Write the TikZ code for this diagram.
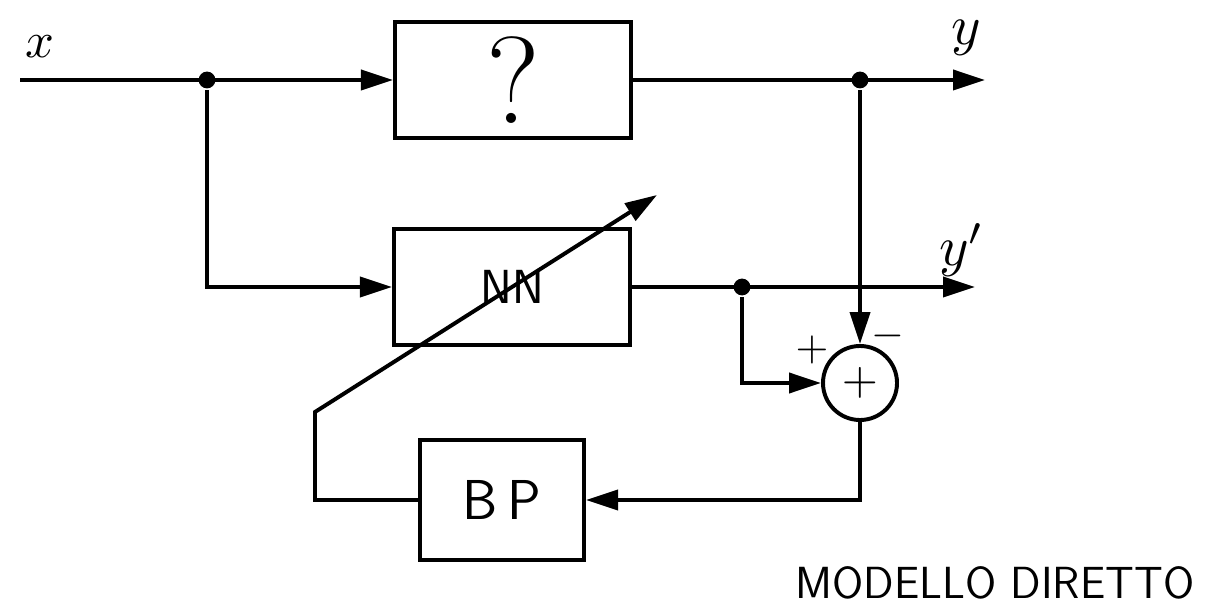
\documentclass[tikz,border=0pt]{standalone}
\usepackage{graphicx}
\usepackage{tikz}
\usetikzlibrary{arrows.meta,shapes}
\usetikzlibrary{positioning}
\newcommand{\mSize}[2]{{\fontsize{#1}{#1}\selectfont #2}}
\newcommand{\mBlock}[1]{\mSize{34}{\sffamily #1}}
\newcommand{\mSym}[2]{\scalebox{#1}{$#2$}}
\tikzset{
  blk/.style={draw,line width=2.8pt,inner sep=0pt},
  sumnode/.style={draw,circle,line width=2.8pt,minimum size=1.85cm,inner sep=0pt},
  junc/.style={circle,fill=black,minimum size=0.42cm,inner sep=0pt},
  lbl/.style={inner sep=0pt},
}

\begin{document}
\begin{tikzpicture}[x=0.025cm,y=-0.025cm,line width=2.8pt,
    >={Triangle[length=8mm,width=5mm]}]
    \useasboundingbox (0,0) rectangle (1220,615);
    % blocks
    \node[blk,minimum width=5.9cm,minimum height=2.9cm] (plant) at (513,80) {\mSize{88}{?}};
    \node[blk,minimum width=5.9cm,minimum height=2.9cm] (nn) at (512,287) {\mBlock{NN}};
    \node[blk,minimum width=4.1cm,minimum height=3cm] (bp) at (502,500) {\mSize{40}{\sffamily B\,P}};
    \node[sumnode] (sum) at (860,383) {\mSym{3.3}{+}};
    % branch points and free ends
    \coordinate (in) at (20,80);
    \coordinate (yout) at (985,80);
    \coordinate (ynout) at (975,287);
    \coordinate (corner) at (315,412);
    \coordinate (tip) at (657,195);
    \node[junc] (j1) at (207,80) {};
    \node[junc] (j2) at (860,80) {};
    \node[junc] (j3) at (742,287) {};
    % labels
    \node[lbl] (xlab) at (40,47) {\mSym{3.6}{x}};
    \node[lbl] (ylab) at (966,38) {\mSym{4}{y}};
    \node[lbl] (ynlab) at (962,250) {\mSym{4}{y'}};
    \node[lbl] (plus) at (812,350) {\mSym{3}{+}};
    \node[lbl] (minus) at (888,336) {\mSym{3}{-}};
    \node[lbl] (title) at (995,583) {\mSize{32}{\sffamily MODELLO DIRETTO}};
    % signal paths
    \draw[->] (in) -- (plant.west);
    \draw[->] (plant) -- (yout);
    \draw[->] (j1) |- (nn);
    \draw[->] (nn) -- (ynout);
    \draw[->] (j2) -- (sum);
    \draw[->] (j3) |- (sum);
    \draw[->] (sum) |- (bp);
    % weight update crossing the network
    \draw[->] (bp) -| (corner) -- (tip);
\end{tikzpicture}
\end{document}
